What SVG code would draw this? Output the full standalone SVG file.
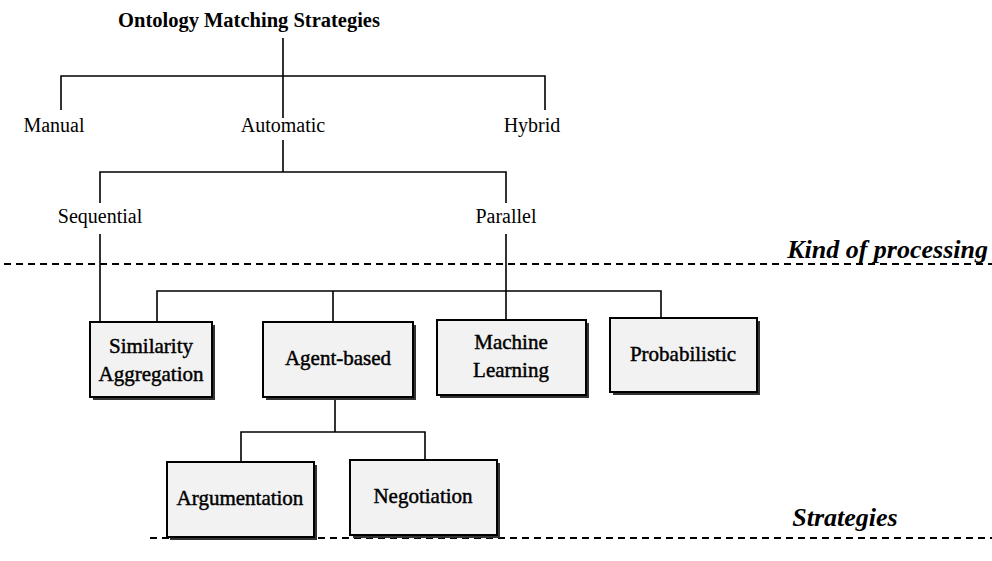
<svg xmlns="http://www.w3.org/2000/svg" width="992" height="561" viewBox="0 0 992 561">
<defs>
<style>
.t{font-family:"Liberation Serif","Times New Roman",serif;font-size:20px;fill:#000;text-anchor:middle}
.title{font-weight:bold;font-size:20.5px}
.b{font-size:21px;stroke:#000;stroke-width:0.45}
.lvl{font-family:"Liberation Serif","Times New Roman",serif;font-weight:bold;font-style:italic;font-size:26px;fill:#000}
.bx{fill:#f2f2f2;stroke:#000;stroke-width:2}
.sh{fill:#333}
.ln{stroke:#000;stroke-width:1.6;fill:none}
.dash{stroke:#000;stroke-width:1.8;stroke-dasharray:7 5;fill:none}
</style>
</defs>
<rect width="992" height="561" fill="#fff"/>
<g id="connectors">
<path class="ln" d="M283 38V118M61 110V76H545V110M283 140V172M100 203V172H506V203M100 234V322M506 234V320M157 322V291H661V318M333 291V322M335 397V432M241 462V432H425V460"/>
</g>
<g id="dividers">
<path class="dash" d="M4 264H992"/>
<path class="dash" d="M150 538H992"/>
</g>
<g id="root"><text class="t title" x="249" y="27">Ontology Matching Strategies</text></g>
<g id="manual"><text class="t" x="54" y="132">Manual</text></g>
<g id="automatic"><text class="t" x="283" y="132">Automatic</text></g>
<g id="hybrid"><text class="t" x="532" y="132">Hybrid</text></g>
<g id="sequential"><text class="t" x="100" y="223">Sequential</text></g>
<g id="parallel"><text class="t" x="506" y="223">Parallel</text></g>
<g id="label-kind"><text class="lvl" x="988" y="258" text-anchor="end">Kind of processing</text></g>
<g id="label-strategies"><text class="lvl" x="845" y="526" text-anchor="middle">Strategies</text></g>
<g id="similarity">
<rect class="sh" x="93" y="325" width="122" height="75"/>
<rect class="bx" x="90" y="322" width="122" height="75"/>
<text class="t b" x="151" y="353">Similarity</text>
<text class="t b" x="151" y="381">Aggregation</text>
</g>
<g id="agent">
<rect class="sh" x="266" y="325" width="150" height="75"/>
<rect class="bx" x="263" y="322" width="150" height="75"/>
<text class="t b" x="338" y="365">Agent-based</text>
</g>
<g id="machine">
<rect class="sh" x="440" y="323" width="149" height="75"/>
<rect class="bx" x="437" y="320" width="149" height="75"/>
<text class="t b" x="511" y="349">Machine</text>
<text class="t b" x="511" y="377">Learning</text>
</g>
<g id="probabilistic">
<rect class="sh" x="613" y="321" width="147" height="74"/>
<rect class="bx" x="610" y="318" width="147" height="74"/>
<text class="t b" x="683" y="361">Probabilistic</text>
</g>
<g id="argumentation">
<rect class="sh" x="170" y="465" width="147" height="75"/>
<rect class="bx" x="167" y="462" width="147" height="75"/>
<text class="t b" x="240" y="505">Argumentation</text>
</g>
<g id="negotiation">
<rect class="sh" x="353" y="463" width="147" height="75"/>
<rect class="bx" x="350" y="460" width="147" height="75"/>
<text class="t b" x="423" y="503">Negotiation</text>
</g>
</svg>
